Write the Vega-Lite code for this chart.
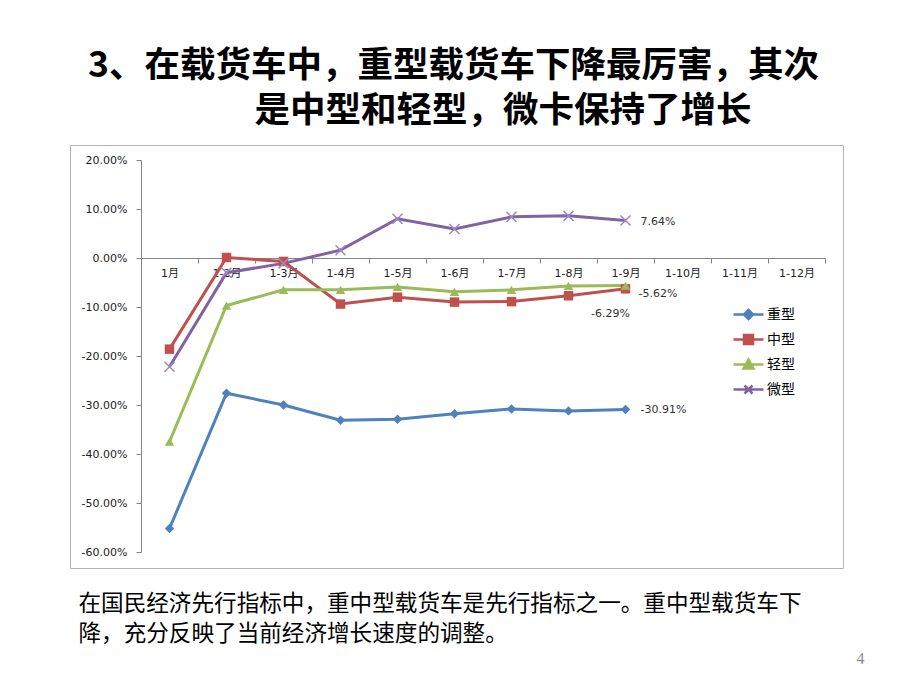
{
  "$schema": "https://vega.github.io/schema/vega-lite/v6.json",
  "width": 773,
  "height": 423,
  "autosize": {"type": "none"},
  "padding": {"left": 70, "top": 145, "right": 77, "bottom": 122},
  "background": "white",
  "config": {
    "font": "Noto Sans CJK SC",
    "view": {"stroke": "#b3b3b3", "strokeWidth": 1},
    "locale": {"number": {"decimal": ".", "thousands": ",", "grouping": [3], "currency": ["$", ""], "minus": "-"}}
  },
  "title": {
    "text": ["3、在载货车中，重型载货车下降最厉害，其次", "⠀⠀⠀⠀⠀⠀是中型和轻型，微卡保持了增长"],
    "anchor": "start",
    "frame": "group",
    "dx": 18,
    "offset": 16,
    "font": "Noto Sans CJK SC, DejaVu Sans",
    "fontSize": 35.5,
    "fontWeight": "bold",
    "lineHeight": 45,
    "color": "#000000"
  },
  "data": {
    "values": [
      {"series": "重型", "month": "1月", "value": -0.552},
      {"series": "重型", "month": "1-2月", "value": -0.276},
      {"series": "重型", "month": "1-3月", "value": -0.300},
      {"series": "重型", "month": "1-4月", "value": -0.331},
      {"series": "重型", "month": "1-5月", "value": -0.329},
      {"series": "重型", "month": "1-6月", "value": -0.318},
      {"series": "重型", "month": "1-7月", "value": -0.308},
      {"series": "重型", "month": "1-8月", "value": -0.312},
      {"series": "重型", "month": "1-9月", "value": -0.3091},
      {"series": "中型", "month": "1月", "value": -0.186},
      {"series": "中型", "month": "1-2月", "value": 0.001},
      {"series": "中型", "month": "1-3月", "value": -0.007},
      {"series": "中型", "month": "1-4月", "value": -0.094},
      {"series": "中型", "month": "1-5月", "value": -0.080},
      {"series": "中型", "month": "1-6月", "value": -0.090},
      {"series": "中型", "month": "1-7月", "value": -0.089},
      {"series": "中型", "month": "1-8月", "value": -0.077},
      {"series": "中型", "month": "1-9月", "value": -0.0629},
      {"series": "轻型", "month": "1月", "value": -0.375},
      {"series": "轻型", "month": "1-2月", "value": -0.097},
      {"series": "轻型", "month": "1-3月", "value": -0.065},
      {"series": "轻型", "month": "1-4月", "value": -0.065},
      {"series": "轻型", "month": "1-5月", "value": -0.059},
      {"series": "轻型", "month": "1-6月", "value": -0.069},
      {"series": "轻型", "month": "1-7月", "value": -0.065},
      {"series": "轻型", "month": "1-8月", "value": -0.057},
      {"series": "轻型", "month": "1-9月", "value": -0.0562},
      {"series": "微型", "month": "1月", "value": -0.222},
      {"series": "微型", "month": "1-2月", "value": -0.030},
      {"series": "微型", "month": "1-3月", "value": -0.011},
      {"series": "微型", "month": "1-4月", "value": 0.016},
      {"series": "微型", "month": "1-5月", "value": 0.080},
      {"series": "微型", "month": "1-6月", "value": 0.059},
      {"series": "微型", "month": "1-7月", "value": 0.084},
      {"series": "微型", "month": "1-8月", "value": 0.086},
      {"series": "微型", "month": "1-9月", "value": 0.0764}
    ]
  },
  "encoding": {
    "x": {
      "field": "month",
      "type": "nominal",
      "sort": ["1月", "1-2月", "1-3月", "1-4月", "1-5月", "1-6月", "1-7月", "1-8月", "1-9月", "1-10月", "1-11月", "1-12月"],
      "scale": {
        "type": "band",
        "domain": ["1月", "1-2月", "1-3月", "1-4月", "1-5月", "1-6月", "1-7月", "1-8月", "1-9月", "1-10月", "1-11月", "1-12月"],
        "range": [71, 755],
        "paddingInner": 0,
        "paddingOuter": 0
      },
      "axis": {
        "offset": -310,
        "tickBand": "extent",
        "tickSize": 5,
        "labelPadding": 4,
        "labelAngle": 0,
        "labelFont": "DejaVu Sans, Noto Sans CJK SC",
        "labelFontSize": 11,
        "labelColor": "#222222",
        "domainColor": "#868686",
        "tickColor": "#868686",
        "grid": false,
        "title": ["在国民经济先行指标中，重中型载货车是先行指标之一。重中型载货车下", "降，充分反映了当前经济增长速度的调整。"],
        "titleFont": "Noto Sans CJK SC",
        "titleFontSize": 22.6,
        "titleFontWeight": "normal",
        "titleColor": "#000000",
        "titleAnchor": "start",
        "titleAlign": "left",
        "titleBaseline": "top",
        "titleLineHeight": 30,
        "titleX": 8,
        "titleY": 334
      }
    },
    "y": {
      "field": "value",
      "type": "quantitative",
      "scale": {"domain": [-0.6, 0.2], "range": [407, 15], "nice": false, "zero": false},
      "axis": {
        "offset": -71,
        "values": [-0.6, -0.5, -0.4, -0.3, -0.2, -0.1, 0, 0.1, 0.2],
        "format": ".2%",
        "tickSize": 5,
        "labelPadding": 9,
        "labelFont": "DejaVu Sans",
        "labelFontSize": 11,
        "labelColor": "#222222",
        "domainColor": "#868686",
        "tickColor": "#868686",
        "grid": false,
        "title": "4",
        "titleAngle": 0,
        "titleFont": "Liberation Serif",
        "titleFontSize": 16,
        "titleFontWeight": "normal",
        "titleColor": "#8c8c8c",
        "titleAlign": "center",
        "titleBaseline": "middle",
        "titleX": 719,
        "titleY": 513
      }
    }
  },
  "layer": [
    {
      "mark": {"type": "line", "strokeWidth": 3},
      "encoding": {
        "color": {
          "field": "series",
          "type": "nominal",
          "scale": {"domain": ["重型", "中型", "轻型", "微型"], "range": ["#4F81BD", "#C0504D", "#9BBB59", "#8064A2"]},
          "legend": {
            "orient": "none",
            "legendX": 667,
            "legendY": 158,
            "title": null,
            "padding": 0,
            "symbolSize": 400,
            "symbolStrokeWidth": 2.5,
            "rowPadding": 4,
            "labelOffset": 7,
            "labelFont": "Noto Sans CJK SC",
            "labelFontSize": 14,
            "labelColor": "#000000",
            "encode": {
              "symbols": {
                "update": {
                  "shape": {"signal": "datum.value === '重型' ? 'M-1.5,0H1.5M0,-0.45L0.45,0L0,0.45L-0.45,0Z' : datum.value === '中型' ? 'M-1.5,0H1.5M-0.45,-0.45H0.45V0.45H-0.45Z' : datum.value === '轻型' ? 'M-1.5,0H1.5M0,-0.5L0.5,0.4H-0.5Z' : 'M-1.5,0H1.5M-0.4,-0.4L0.4,0.4M-0.4,0.4L0.4,-0.4'"},
                  "stroke": {"signal": "scale('color', datum.value)"},
                  "fill": {"signal": "scale('color', datum.value)"},
                  "opacity": {"value": 1}
                }
              }
            }
          }
        }
      }
    },
    {
      "transform": [{"filter": "datum.series !== '微型'"}],
      "mark": {"type": "point", "filled": true, "size": 90, "opacity": 1},
      "encoding": {
        "color": {"field": "series", "type": "nominal"},
        "shape": {
          "field": "series",
          "type": "nominal",
          "scale": {"domain": ["重型", "中型", "轻型"], "range": ["diamond", "square", "triangle-up"]},
          "legend": null
        }
      }
    },
    {
      "transform": [{"filter": "datum.series === '微型'"}],
      "mark": {"type": "point", "filled": false, "size": 100, "opacity": 1, "shape": "M-1,-1L1,1M-1,1L1,-1", "color": "#9d88c0", "strokeWidth": 1.5},
      "encoding": {}
    },
    {
      "transform": [{"filter": "datum.month === '1-9月' && (datum.series === '重型' || datum.series === '微型')"}],
      "mark": {"type": "text", "align": "left", "baseline": "middle", "dx": 15, "dy": 1, "font": "DejaVu Sans", "fontSize": 11, "color": "#333333"},
      "encoding": {"text": {"field": "value", "type": "quantitative", "format": ".2%"}}
    },
    {
      "transform": [{"filter": "datum.month === '1-9月' && datum.series === '轻型'"}],
      "mark": {"type": "text", "align": "left", "baseline": "middle", "dx": 13, "dy": 8, "font": "DejaVu Sans", "fontSize": 11, "color": "#333333"},
      "encoding": {"text": {"field": "value", "type": "quantitative", "format": ".2%"}}
    },
    {
      "transform": [{"filter": "datum.month === '1-9月' && datum.series === '中型'"}],
      "mark": {"type": "text", "align": "center", "baseline": "middle", "dx": -15, "dy": 25, "font": "DejaVu Sans", "fontSize": 11, "color": "#333333"},
      "encoding": {"text": {"field": "value", "type": "quantitative", "format": ".2%"}}
    }
  ]
}
